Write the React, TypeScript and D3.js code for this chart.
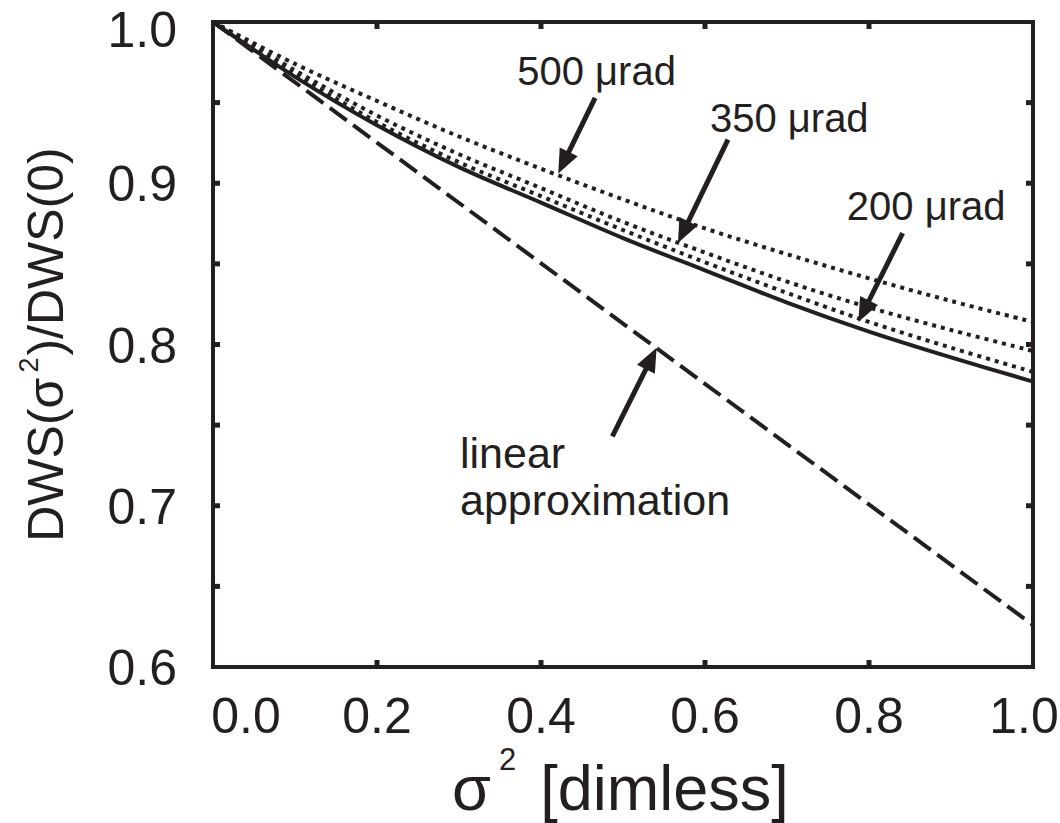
import React from "react";
import * as d3 from "d3";

// sigma^2 sample positions
const sigma2 = [0, 0.1, 0.2, 0.3, 0.4, 0.5, 0.6, 0.7, 0.8, 0.9, 1.0];
// solid curve (exact)
const exact = [1.0, 0.966, 0.936, 0.91, 0.888, 0.866, 0.846, 0.826, 0.808, 0.792, 0.777];
// dotted curves, one per divergence
const urad500 = [1.0, 0.974, 0.951, 0.929, 0.909, 0.89, 0.872, 0.856, 0.841, 0.827, 0.814];
const urad350 = [1.0, 0.97, 0.942, 0.918, 0.897, 0.876, 0.857, 0.839, 0.823, 0.809, 0.796];
const urad200 = [1.0, 0.968, 0.938, 0.913, 0.892, 0.871, 0.851, 0.832, 0.814, 0.798, 0.783];
// linear approximation end points
const linearX = [0, 1.0];
const linearY = [1.0, 0.626];

const yLabelTicks = [0.6, 0.7, 0.8, 0.9, 1.0];
const yMinorTicks = [0.65, 0.7, 0.75, 0.8, 0.85, 0.9, 0.95];
const xLabelTicks = [0, 0.2, 0.4, 0.6, 0.8, 1.0];
const xInnerTicks = [0.2, 0.4, 0.6, 0.8];

// annotations in data units
const arrows = [
  { label: "500 \u03bcrad", lx: 0.371, ly: 0.961, tail: [0.466, 0.953], tip: [0.421, 0.906] },
  { label: "350 \u03bcrad", lx: 0.606, ly: 0.932, tail: [0.628, 0.927], tip: [0.567, 0.863] },
  { label: "200 \u03bcrad", lx: 0.773, ly: 0.877, tail: [0.841, 0.869], tip: [0.787, 0.814] },
  { label: "", lx: 0, ly: 0, tail: [0.487, 0.743], tip: [0.541, 0.798] },
];

const INK = "#231f20";
const FONT = "'Liberation Sans', Arial, sans-serif";

export default function App() {
  const x = d3.scaleLinear().domain([0, 1]).range([213, 1033]);
  const y = d3.scaleLinear().domain([0.6, 1.0]).range([667, 22]);

  const line = d3
    .line<[number, number]>()
    .x((d) => x(d[0]))
    .y((d) => y(d[1]))
    .curve(d3.curveCatmullRom);

  const pts = (vals: number[]) => sigma2.map((s, i) => [s, vals[i]] as [number, number]);
  const linPts = linearX.map((s, i) => [s, linearY[i]] as [number, number]);

  const arrowShape = (a: (typeof arrows)[number], i: number) => {
    const x0 = x(a.tail[0]), y0 = y(a.tail[1]);
    const x1 = x(a.tip[0]), y1 = y(a.tip[1]);
    const dx = x1 - x0, dy = y1 - y0;
    const len = Math.hypot(dx, dy);
    const ux = dx / len, uy = dy / len;
    const hl = 24, hw = 10;
    const bx = x1 - ux * hl, by = y1 - uy * hl;
    const head = [
      [x1, y1],
      [bx - uy * hw, by + ux * hw],
      [bx + uy * hw, by - ux * hw],
    ]
      .map((p) => p.join(","))
      .join(" ");
    return (
      <g key={i}>
        <line x1={x0} y1={y0} x2={bx + ux * 2} y2={by + uy * 2} stroke={INK} strokeWidth={5} />
        <polygon points={head} fill={INK} />
      </g>
    );
  };

  return (
    <svg
      width={1060}
      height={823}
      style={{ position: "absolute", left: 0, top: 0, background: "#fff" }}
      fontFamily={FONT}
    >
      <rect x={0} y={0} width={1060} height={823} fill="#fff" />

      {/* curves */}
      <path d={line(linPts) || ""} fill="none" stroke={INK} strokeWidth={4} strokeDasharray="21 8" />
      <path d={line(pts(exact)) || ""} fill="none" stroke={INK} strokeWidth={4} />
      {[urad500, urad350, urad200].map((v, i) => (
        <path key={i} d={line(pts(v)) || ""} fill="none" stroke={INK} strokeWidth={4} strokeDasharray="4 5" />
      ))}

      {/* frame */}
      <rect x={x(0)} y={y(1)} width={x(1) - x(0)} height={y(0.6) - y(1)} fill="none" stroke={INK} strokeWidth={4} />

      {/* ticks, inward on all sides */}
      {yMinorTicks.map((t) => (
        <g key={"yt" + t}>
          <line x1={x(0)} x2={x(0) + 7} y1={y(t)} y2={y(t)} stroke={INK} strokeWidth={5} />
          <line x1={x(1)} x2={x(1) - 7} y1={y(t)} y2={y(t)} stroke={INK} strokeWidth={5} />
        </g>
      ))}
      {xInnerTicks.map((t) => (
        <g key={"xt" + t}>
          <line x1={x(t)} x2={x(t)} y1={y(0.6)} y2={y(0.6) - 7} stroke={INK} strokeWidth={5} />
          <line x1={x(t)} x2={x(t)} y1={y(1)} y2={y(1) + 7} stroke={INK} strokeWidth={5} />
        </g>
      ))}

      {/* tick labels */}
      {yLabelTicks.map((t) => (
        <text
          key={"yl" + t}
          x={177}
          y={y(t) + 18 + (t === 1 ? 7 : 0)}
          textAnchor="end"
          fontSize={50}
          fill={INK}
        >
          {t.toFixed(1)}
        </text>
      ))}
      {xLabelTicks.map((t) => (
        <text
          key={"xl" + t}
          x={x(t) + (t === 0 ? 33 : t === 1 ? -9 : 0)}
          y={733}
          textAnchor="middle"
          fontSize={50}
          fill={INK}
        >
          {t.toFixed(1)}
        </text>
      ))}

      {/* axis titles */}
      <text x={452} y={810} fontSize={63} fill={INK}>
        {"\u03c3"}
        <tspan fontSize={31} dx={8} dy={-40}>2</tspan>
        <tspan dx={24} dy={40}>[dimless]</tspan>
      </text>
      <text
        transform={`translate(63, ${(y(0.6) + y(1)) / 2}) rotate(-90)`}
        textAnchor="middle"
        fontSize={50}
        fill={INK}
      >
        DWS({"\u03c3"}
        <tspan fontSize={27} dx={5} dy={-25}>2</tspan>
        <tspan dx={2} dy={25}>)/DWS(0)</tspan>
      </text>

      {/* annotations */}
      {arrows.map(arrowShape)}
      {arrows
        .filter((a) => a.label)
        .map((a) => (
          <text key={a.label} x={x(a.lx)} y={y(a.ly)} fontSize={40} fill={INK}>
            {a.label}
          </text>
        ))}
      <text x={460} y={468} fontSize={43} fill={INK}>
        linear
      </text>
      <text x={460} y={515} fontSize={43} fill={INK}>
        approximation
      </text>
    </svg>
  );
}
